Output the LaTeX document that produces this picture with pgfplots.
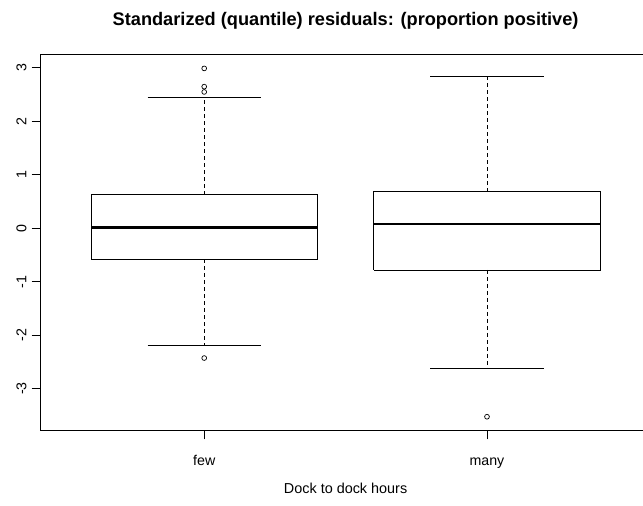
\documentclass[border=0pt]{standalone}
\usepackage{fontspec}
\setmainfont{Liberation Sans}
\usepackage{pgfplots}
\pgfplotsset{compat=1.18}

% Five-number summaries and outliers of the standardized residuals
% few  : q1=-0.580, median=0.019, q3=0.629, whiskers -2.183 / 2.443
% many : q1=-0.780, median=0.080, q3=0.685, whiskers -2.627 / 2.836

\begin{document}
\begin{tikzpicture}
\useasboundingbox (-40.2pt,-75.3pt) rectangle (602.8pt,430.7pt);
\begin{axis}[
  scale only axis,
  width=610.8pt, height=376.4pt,
  xmin=0.42, xmax=2.58, ymin=-3.786, ymax=3.254,
  axis line style={line width=0.8pt},
  xtick={1,2}, xticklabels={few,many},
  ytick={-3,-2,-1,0,1,2,3},
  yticklabels={-3,-2,-1,0,1,2,3},
  tick align=outside, tick pos=left,
  major tick length=8.6pt,
  every tick/.style={black, line width=0.8pt},
  ticklabel style={font=\fontsize{14.2}{17}\selectfont},
  yticklabel style={rotate=90, anchor=south, inner sep=0pt},
  xticklabel style={anchor=base, inner sep=0pt},
  yticklabel shift=5pt,
  xticklabel shift=26pt,
  title={\bfseries\fontsize{18.2}{21}\selectfont Standarized (quantile) residuals: (proportion positive)},
  title style={at={(0.5,1)}, anchor=base, yshift=23pt, inner sep=0pt},
  xlabel={\fontsize{14.4}{17}\selectfont Dock to dock hours},
  xlabel style={at={(0.5,0)}, anchor=base, yshift=-62.6pt, inner sep=0pt},
  clip=false,
]
% --- few ---
\addplot[line width=0.8pt, line join=miter] coordinates {(0.6,-0.580) (1.4,-0.580) (1.4,0.629) (0.6,0.629) (0.6,-0.580)};
\addplot[line width=2.8pt] coordinates {(0.6,0.019) (1.4,0.019)};
\addplot[line width=0.8pt, dash pattern=on 4pt off 3pt] coordinates {(1,0.629) (1,2.443)};
\addplot[line width=0.8pt, dash pattern=on 4pt off 3pt] coordinates {(1,-0.580) (1,-2.183)};
\addplot[line width=0.8pt] coordinates {(0.8,2.443) (1.2,2.443)};
\addplot[line width=0.8pt] coordinates {(0.8,-2.183) (1.2,-2.183)};
\addplot[only marks, mark=o, mark size=2.4pt, mark options={line width=0.7pt}] coordinates {(1,2.990) (1,2.649) (1,2.550) (1,-2.427)};
% --- many ---
\addplot[line width=0.8pt, line join=miter] coordinates {(1.6,-0.780) (2.4,-0.780) (2.4,0.685) (1.6,0.685) (1.6,-0.780)};
\addplot[line width=2.8pt] coordinates {(1.6,0.080) (2.4,0.080)};
\addplot[line width=0.8pt, dash pattern=on 4pt off 3pt] coordinates {(2,0.685) (2,2.836)};
\addplot[line width=0.8pt, dash pattern=on 4pt off 3pt] coordinates {(2,-0.780) (2,-2.627)};
\addplot[line width=0.8pt] coordinates {(1.8,2.836) (2.2,2.836)};
\addplot[line width=0.8pt] coordinates {(1.8,-2.627) (2.2,-2.627)};
\addplot[only marks, mark=o, mark size=2.4pt, mark options={line width=0.7pt}] coordinates {(2,-3.525)};
\end{axis}
\end{tikzpicture}
\end{document}
